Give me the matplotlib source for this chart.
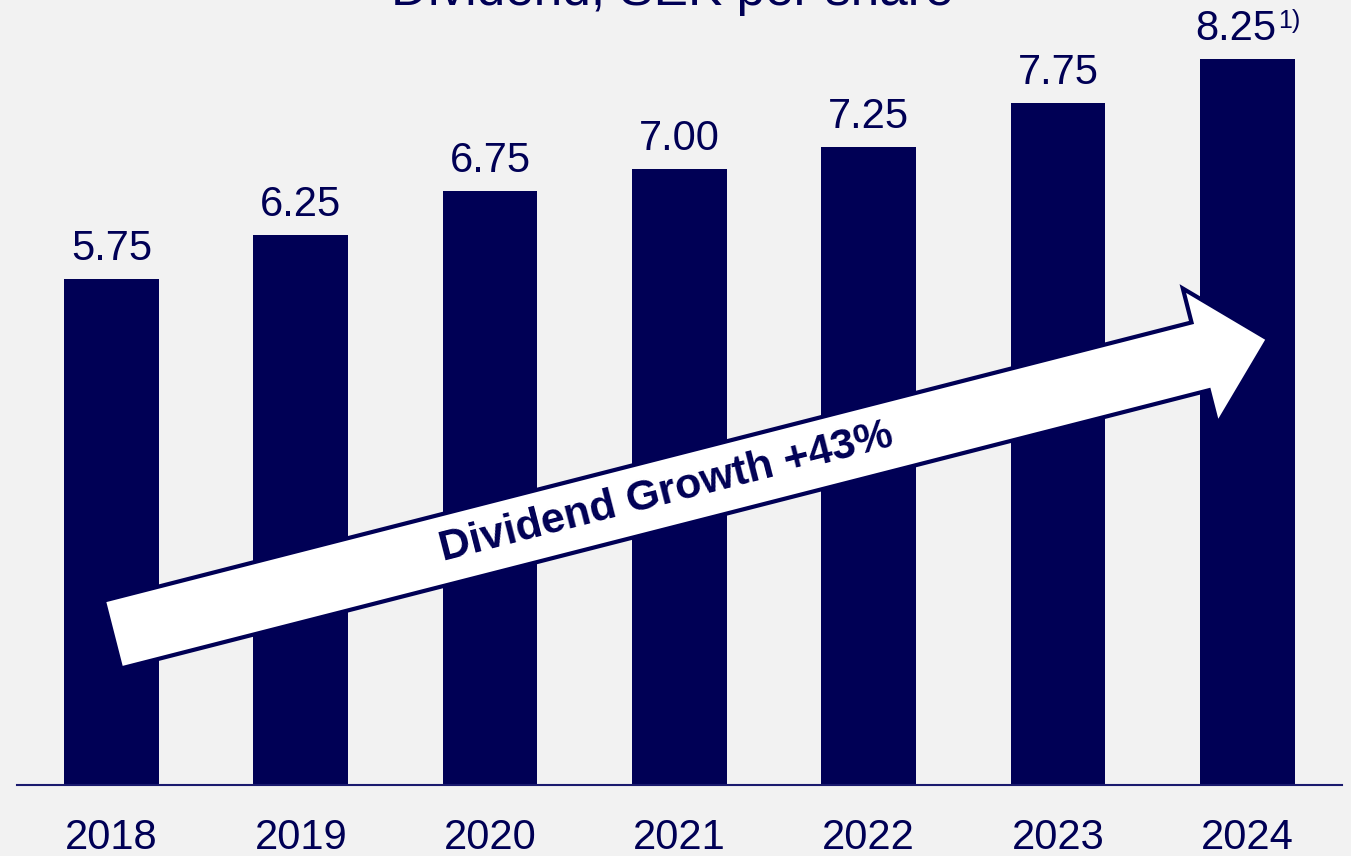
import numpy as np
import matplotlib
matplotlib.use("Agg")
import matplotlib.pyplot as plt
from matplotlib.patches import Polygon
from matplotlib.transforms import Affine2D

plt.rcParams['font.family'] = ['Liberation Sans', 'DejaVu Sans']

years = ["2018", "2019", "2020", "2021", "2022", "2023", "2024"]
dividend = [5.75, 6.25, 6.75, 7.00, 7.25, 7.75, 8.25]
labels = ["5.75", "6.25", "6.75", "7.00", "7.25", "7.75", "8.25"]
notes = ["", "", "", "", "", "", "1)"]
title = "Dividend, SEK per share"
arrow_text = "Dividend Growth +43%"

navy = "#000055"
bg = "#f2f2f2"
W, H = 1351, 856

fig = plt.figure(figsize=(W / 100, H / 100), dpi=100, facecolor=bg)
ax = fig.add_axes([16.8 / W, 71 / H, (1342 - 16.8) / W, 1 - 71 / H])
ax.set_facecolor(bg)

x = np.arange(len(years))
ax.bar(x, dividend, width=0.5, color=navy)
ax.set_xlim(-0.5, 6.5)
ax.set_ylim(0, 785 / 88)

for s in ["top", "left", "right"]:
    ax.spines[s].set_visible(False)
ax.spines["bottom"].set_color("#1a1a6e")
ax.spines["bottom"].set_linewidth(1.5)
ax.set_yticks([])
ax.set_xticks(x)
ax.set_xticklabels(years, fontsize=30, color=navy)
ax.tick_params(axis="x", length=0, pad=24)

# value labels above bars
for xi, v, lab, note in zip(x, dividend, labels, notes):
    dx = -8 if note else 0
    t = ax.annotate(lab, xy=(xi, v), xytext=(dx, 14), textcoords="offset points",
                    ha="center", va="baseline", fontsize=30, color=navy)
    if note:
        ax.annotate(note, xy=(1, 1), xycoords=t, xytext=(1, 0), textcoords="offset points",
                    ha="left", va="top", fontsize=18, color=navy)

# title, partly cut off at the top edge as in the original slide
fig.text(672 / W, 1 - 5 / H, title, ha="center", va="baseline", fontsize=37, color=navy)

# growth arrow, built in pixel space (origin top-left)
tail = np.array([112.5, 634.5])
tip = np.array([1268.0, 339.0])
shaft_w, head_w, head_len = 70, 140, 70
u = (tip - tail) / np.linalg.norm(tip - tail)
n = np.array([u[1], -u[0]])  # points up on screen
base = tip - u * head_len
pts = [tail + n * shaft_w / 2, base + n * shaft_w / 2, base + n * head_w / 2, tip,
       base - n * head_w / 2, base - n * shaft_w / 2, tail - n * shaft_w / 2]
px = Affine2D().scale(1 / W, -1 / H).translate(0, 1) + fig.transFigure
arrow = Polygon(pts, closed=True, facecolor="white", edgecolor=navy, linewidth=3,
                joinstyle="miter", transform=px)
fig.add_artist(arrow)

mid = tail + u * 572
ang = np.degrees(np.arctan2(-(tip[1] - tail[1]), tip[0] - tail[0]))
fig.text(mid[0] / W, 1 - mid[1] / H, arrow_text, rotation=ang, rotation_mode="anchor",
         ha="center", va="center", fontsize=31, fontweight="bold", color=navy)

fig.savefig("out.png", dpi=100, facecolor=bg)
